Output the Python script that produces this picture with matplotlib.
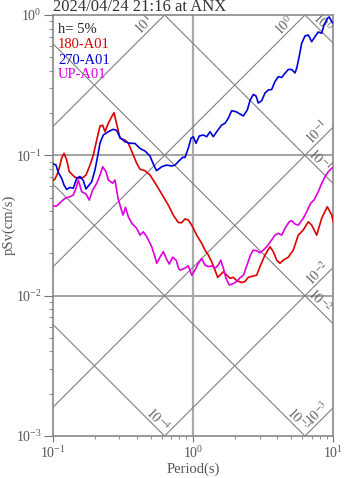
import numpy as np
import matplotlib
matplotlib.use("Agg")
import matplotlib.pyplot as plt

plt.rcParams['font.family'] = ['Liberation Serif', 'DejaVu Serif']
plt.rcParams['mathtext.fontset'] = 'stix'

title = "2024/04/24 21:16 at ANX"
damping_label = "h= 5%"
component_names = ["180-A01", "270-A01", "UP-A01"]
component_colors = ["#dd0000", "#0000dd", "#dd00dd"]

# Period (s) and pseudo-velocity response (cm/s), 180 component
t_180 = [0.100, 0.1042, 0.110, 0.1163, 0.1208, 0.1262, 0.1317, 0.137, 0.1446, 0.157,
         0.1657, 0.1732, 0.185, 0.1953, 0.2065, 0.218, 0.2278, 0.2366, 0.2497, 0.2641,
         0.2742, 0.2894, 0.3026, 0.3284, 0.3467, 0.3763, 0.3978, 0.4201, 0.4558, 0.4947,
         0.5523, 0.6155, 0.668, 0.7251, 0.787, 0.832, 0.878, 0.927, 0.981, 1.064,
         1.155, 1.22, 1.287, 1.361, 1.437, 1.502, 1.560, 1.647, 1.741, 1.837,
         1.94, 2.051, 2.227, 2.35, 2.481, 2.693, 2.847, 3.005, 3.263, 3.541,
         3.738, 3.953, 4.172, 4.404, 4.78, 5.189, 5.63, 6.113, 6.636, 7.018,
         7.617, 8.268, 9.065, 9.74, 10.0]
sv_180 = [0.0656, 0.0678, 0.0764, 0.0957, 0.1033, 0.0926, 0.0764, 0.0736, 0.0697, 0.0686,
          0.0697, 0.0724, 0.0852, 0.1005, 0.1285, 0.1618, 0.1636, 0.1473, 0.169, 0.1884,
          0.2012, 0.160, 0.1322, 0.1285, 0.1218, 0.1005, 0.0877, 0.0795, 0.0777, 0.0724,
          0.0609, 0.0507, 0.0442, 0.0375, 0.0332, 0.0331, 0.0352, 0.0346, 0.0318, 0.027,
          0.0236, 0.0211, 0.0195, 0.0174, 0.0152, 0.0135, 0.014, 0.0148, 0.014, 0.0133,
          0.0135, 0.0128, 0.0124, 0.0126, 0.0135, 0.0138, 0.014, 0.0161, 0.0195, 0.0223,
          0.0206, 0.0179, 0.017, 0.0179, 0.0188, 0.0211, 0.027, 0.0294, 0.0336, 0.0318,
          0.027, 0.0356, 0.043, 0.0375, 0.0336]

# 270 component
t_270 = [0.100, 0.1059, 0.110, 0.1163, 0.1208, 0.1262, 0.1332, 0.1406, 0.1487, 0.157,
         0.1657, 0.1732, 0.1799, 0.1902, 0.2007, 0.2099, 0.218, 0.2301, 0.2497, 0.271,
         0.2867, 0.3026, 0.3284, 0.3565, 0.3869, 0.4201, 0.4558, 0.4947, 0.5223, 0.5505,
         0.5997, 0.6508, 0.7063, 0.7457, 0.787, 0.846, 0.878, 0.927, 0.9694, 1.007,
         1.052, 1.111, 1.186, 1.254, 1.324, 1.398, 1.478, 1.604, 1.693, 1.787,
         1.889, 2.028, 2.165, 2.286, 2.441, 2.551, 2.693, 2.815, 2.923, 3.09,
         3.263, 3.443, 3.641, 3.844, 4.058, 4.291, 4.529, 4.78, 5.054, 5.336,
         5.487, 5.726, 5.956, 6.286, 6.636, 7.018, 7.408, 7.82, 8.268, 8.585,
         9.065, 9.366, 9.74, 10.0]
sv_270 = [0.0874, 0.0852, 0.0754, 0.0684, 0.0614, 0.0571, 0.059, 0.0582, 0.0686, 0.0706,
          0.0661, 0.0575, 0.0604, 0.0648, 0.0786, 0.0989, 0.1224, 0.1395, 0.1473, 0.1532,
          0.1502, 0.1339, 0.125, 0.1218, 0.1214, 0.1118, 0.1073, 0.0989, 0.0867, 0.0777,
          0.0829, 0.0852, 0.0839, 0.0852, 0.0901, 0.0968, 0.0965, 0.1122, 0.1322, 0.1357,
          0.1218, 0.1373, 0.1395, 0.1357, 0.1473, 0.1357, 0.1473, 0.1644, 0.169, 0.1835,
          0.2079, 0.2045, 0.197, 0.1906, 0.2103, 0.2458, 0.2713, 0.2647, 0.2359, 0.245,
          0.278, 0.292, 0.2944, 0.3357, 0.3633, 0.3585, 0.3842, 0.4089, 0.4089, 0.3861,
          0.417, 0.5103, 0.6286, 0.7083, 0.720, 0.6453, 0.7003, 0.7565, 0.7406, 0.8485,
          0.944, 0.968, 0.896, 0.873]

# UP component
t_up = [0.100, 0.1071, 0.1131, 0.1228, 0.1332, 0.1406, 0.147, 0.1527, 0.1614, 0.1732,
        0.1828, 0.1933, 0.2065, 0.218, 0.2278, 0.2405, 0.2497, 0.2684, 0.2788, 0.2927,
        0.3051, 0.3178, 0.3311, 0.3467, 0.3665, 0.3978, 0.4201, 0.4434, 0.4689, 0.5089,
        0.5372, 0.5523, 0.5832, 0.6155, 0.6508, 0.6791, 0.7181, 0.7617, 0.790, 0.8094,
        0.878, 0.927, 0.981, 1.035, 1.093, 1.155, 1.22, 1.287, 1.361, 1.437,
        1.517, 1.578, 1.647, 1.721, 1.817, 1.94, 2.051, 2.165, 2.293, 2.428,
        2.573, 2.693, 2.847, 3.005, 3.173, 3.355, 3.641, 3.844, 4.058, 4.291,
        4.529, 4.86, 5.054, 5.336, 5.63, 6.113, 6.464, 6.902, 7.287, 7.82,
        8.268, 8.728, 9.213, 9.74, 10.0]
sv_up = [0.0435, 0.0435, 0.0459, 0.0494, 0.0507, 0.0521, 0.0582, 0.0667, 0.055, 0.053,
         0.048, 0.0566, 0.0632, 0.0724, 0.0829, 0.0764, 0.0667, 0.0632, 0.0667, 0.0494,
         0.043, 0.0375, 0.0426, 0.0365, 0.0328, 0.0302, 0.027, 0.0285, 0.0263, 0.0223,
         0.0189, 0.017, 0.0188, 0.0206, 0.0181, 0.0168, 0.0188, 0.0178, 0.0157, 0.0152,
         0.0157, 0.0163, 0.014, 0.0152, 0.017, 0.0184, 0.0165, 0.0161, 0.0163, 0.0157,
         0.0165, 0.0179, 0.0157, 0.0133, 0.0119, 0.0122, 0.0126, 0.0134, 0.014, 0.0165,
         0.0195, 0.0211, 0.0209, 0.0202, 0.0211, 0.0223, 0.0249, 0.027, 0.0278, 0.027,
         0.0302, 0.0336, 0.0342, 0.0324, 0.0318, 0.0356, 0.0396, 0.0455, 0.048, 0.055,
         0.0632, 0.0704, 0.0764, 0.0808, 0.0818]

# Tripartite guide levels
accel_levels = [1e-3, 1e-2, 1e-1, 1e0, 1e1]   # pseudo-acceleration, cm/s^2
disp_levels = [1e-4, 1e-3, 1e-2, 1e-1, 1e0]   # displacement, cm

T_MIN, T_MAX = 0.1, 10.0
SV_MIN, SV_MAX = 1e-3, 1.0
PX_PER_DECADE = 140.4

fig = plt.figure(figsize=(3.47, 4.78), dpi=100)
ax = fig.add_axes([0.1513, 0.0879, 0.8092, 0.8808])
ax.set_xscale('log')
ax.set_yscale('log')
ax.set_xlim(T_MIN, T_MAX)
ax.set_ylim(SV_MIN, SV_MAX)

guide_color = '#808080'
label_color = '#666666'
tg = np.logspace(-1, 1, 200)
two_pi = 2 * np.pi

# reference grid
for yv in [1e-2, 1e-1]:
    ax.axhline(yv, color='#8c8c8c', lw=1.1, zorder=1)
ax.axvline(1.0, color='#aaaaaa', lw=1.6, zorder=1)


def level_text(v):
    return r'$10^{%d}$' % round(np.log10(v))


for a in accel_levels:
    ax.plot(tg, a * tg / two_pi, color=guide_color, lw=0.8, zorder=1)
    t_top = two_pi * SV_MAX / a
    if t_top <= T_MAX:
        te, se, back_px = t_top, SV_MAX, 8
    else:
        te, se, back_px = T_MAX, a * T_MAX / two_pi, 1
    k = 10 ** (-back_px / PX_PER_DECADE)
    ax.annotate(level_text(a), xy=(te * k, se * k),
                xytext=(-1.0, 1.0), textcoords='offset points', rotation=45,
                rotation_mode='anchor', ha='right', va='baseline', fontsize=10,
                color=label_color, zorder=2)

for d in disp_levels:
    ax.plot(tg, two_pi * d / tg, color=guide_color, lw=0.8, zorder=1)
    t_bot = two_pi * d / SV_MIN
    if t_bot <= T_MAX:
        te, se, back_px = t_bot, SV_MIN, 2
    else:
        te, se, back_px = T_MAX, two_pi * d / T_MAX, 9
    k = 10 ** (-back_px / PX_PER_DECADE)
    ax.annotate(level_text(d), xy=(te * k, se / k),
                xytext=(1.0, 1.0), textcoords='offset points', rotation=-45,
                rotation_mode='anchor', ha='right', va='baseline', fontsize=10,
                color=label_color, zorder=2)

# response spectra
for t, sv, c in zip([t_180, t_270, t_up], [sv_180, sv_270, sv_up], component_colors):
    ax.plot(t, sv, color=c, lw=1.2, zorder=3)

for s in ax.spines.values():
    s.set_color('#888888')
    s.set_linewidth(1.2)
ax.tick_params(which='both', direction='out', top=False, right=False,
               color='#777777', labelcolor='#555555', labelsize=10)
ax.tick_params(axis='y', which='major', length=6.5, pad=1.5)
ax.tick_params(axis='y', which='minor', length=3)
ax.tick_params(axis='x', which='major', length=4.5, pad=2)
ax.tick_params(axis='x', which='minor', length=2.5)

px_h = 478.0


def fy(py):
    return 1 - py / px_h


fig.text(53 / 347, fy(10.7), title, fontsize=12, color='#333333', ha='left', va='baseline')
fig.text(58 / 347, fy(33.3), damping_label, fontsize=10.5, color='#222222', ha='left', va='baseline')
for name, c, py in zip(component_names, component_colors, [48.3, 63.5, 77.5]):
    fig.text(58 / 347, fy(py), name, fontsize=10.5, color=c, ha='left', va='baseline')

fig.text(193 / 347, fy(473), 'Period(s)', fontsize=10.5, color='#555555', ha='center', va='baseline')
fig.text(9 / 347, fy(225), 'pSv(cm/s)', fontsize=10.5, color='#555555', ha='center', va='center',
         rotation=90)

fig.savefig('out.png', dpi=100)
